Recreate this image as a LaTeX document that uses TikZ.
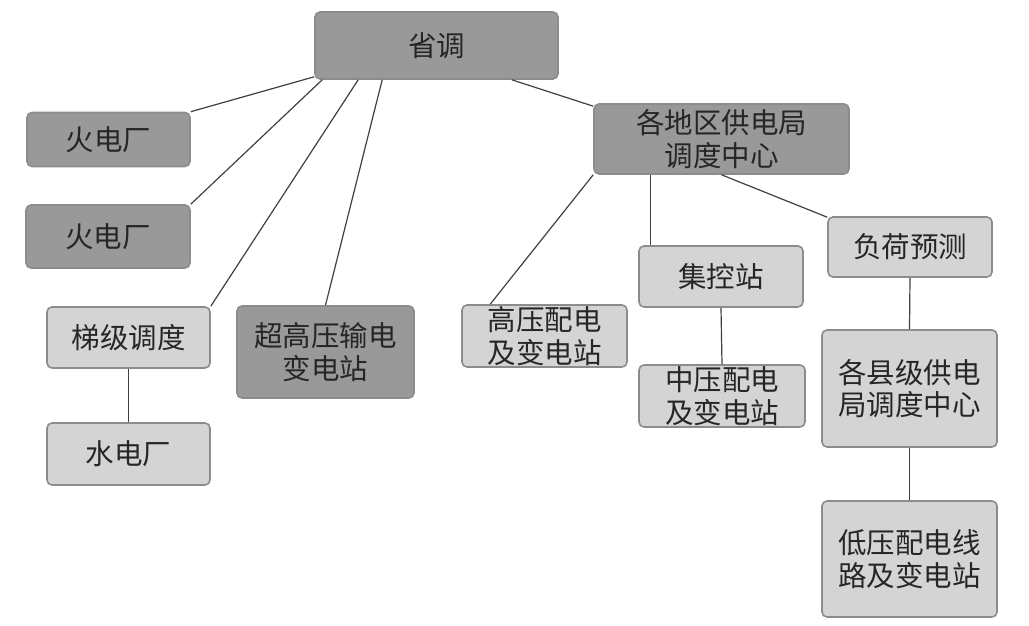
\documentclass[tikz,border=0pt]{standalone}
\usepackage{fontspec}
\newfontfamily\cjk{Noto Sans CJK SC}
\begin{document}
\begin{tikzpicture}[x=1pt, y=1pt, line join=bevel]
  \tikzstyle{box}=[draw=black!45, line width=1.6pt, rounded corners=5pt, inner sep=0pt,
                   align=center, text=black!85, font=\cjk\fontsize{28.5}{32.5}\selectfont]
  \tikzstyle{dark_box}=[box, fill=black!40]
  \tikzstyle{light_box}=[box, fill=black!17]
  \tikzstyle{link}=[draw=black!75, line width=1.2pt]
  \useasboundingbox (0,0) rectangle (1029,626);
  \node[dark_box, minimum width=243pt, minimum height=67pt] (sd) at (436.5,580.5) {省调};
  \node[dark_box, minimum width=163pt, minimum height=54pt] (hd1) at (108.5,486.5) {火电厂};
  \node[dark_box, minimum width=164pt, minimum height=63pt] (hd2) at (108,389.5) {火电厂};
  \node[light_box, minimum width=163pt, minimum height=61pt] (tj) at (128.5,288.5) {梯级调度};
  \node[light_box, minimum width=163pt, minimum height=62pt] (sdc) at (128.5,172) {水电厂};
  \node[dark_box, minimum width=177pt, minimum height=92pt] (cgy) at (325.5,274) {超高压输电\\变电站};
  \node[dark_box, minimum width=255pt, minimum height=70pt] (dq) at (721.5,487) {各地区供电局\\调度中心};
  \node[light_box, minimum width=165pt, minimum height=62pt] (gy) at (544.5,290) {高压配电\\及变电站};
  \node[light_box, minimum width=164pt, minimum height=61pt] (jk) at (721,349.5) {集控站};
  \node[light_box, minimum width=166pt, minimum height=62pt] (zy) at (722,230) {中压配电\\及变电站};
  \node[light_box, minimum width=164pt, minimum height=60pt] (fh) at (910,379) {负荷预测};
  \node[light_box, minimum width=175pt, minimum height=117pt] (xj) at (909.5,237.5) {各县级供电\\局调度中心};
  \node[light_box, minimum width=175pt, minimum height=116pt] (dy) at (909.5,67) {低压配电线\\路及变电站};

  \path[link] ([yshift=3pt]sd.south west) edge (hd1.north east)
        ([xshift=8pt]sd.south west) edge (hd2.north east)
        ([xshift=44pt]sd.south west) edge (tj.north east)
        ([xshift=68pt]sd.south west) edge (cgy.north)
        ([xshift=-47pt]sd.south east) edge ([yshift=-3pt]dq.north west)
        (tj.south) edge (sdc.north);

  \path[link] (dq.south west) edge ([xshift=29pt]gy.north west)
        ([xshift=12pt]jk.north west |- dq.south) edge ([xshift=12pt]jk.north west)
        (dq.south) edge ([yshift=-1pt]fh.north west)
        (jk.south) edge (zy.north)
        (fh.south) edge (xj.north)
        (xj.south) edge (dy.north);
\end{tikzpicture}
\end{document}
